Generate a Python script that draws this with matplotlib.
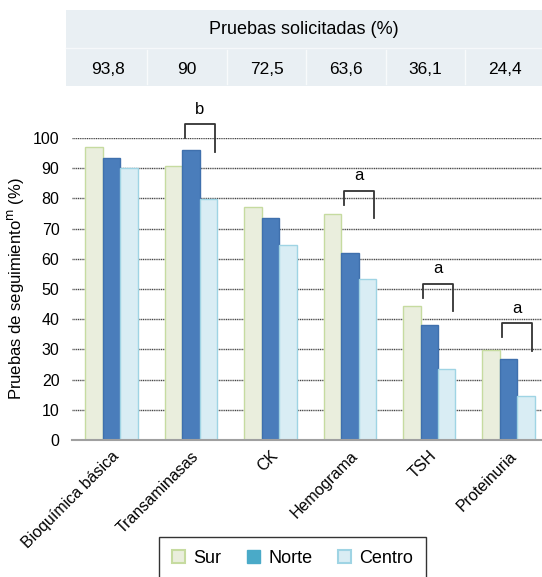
import matplotlib.pyplot as plt
import numpy as np
from matplotlib.patches import Rectangle, Patch
from matplotlib.transforms import blended_transform_factory

plt.rcParams['font.family'] = ['Liberation Sans', 'DejaVu Sans']

pruebas = ["Bioquímica básica", "Transaminasas", "CK", "Hemograma", "TSH", "Proteinuria"]
solicitadas = ["93,8", "90", "72,5", "63,6", "36,1", "24,4"]
sur = [97.1, 90.7, 77.3, 74.7, 44.4, 29.9]
norte = [93.5, 95.9, 73.6, 61.8, 38.1, 26.7]
centro = [90.0, 79.9, 64.6, 53.4, 23.4, 14.6]
yticks = [0, 10, 20, 30, 40, 50, 60, 70, 80, 90, 100]

# significance brackets: group index, top, letter
br_idx = [1, 3, 4, 5]
br_top = [104.5, 82.5, 51.7, 38.6]
br_lab = ["b", "a", "a", "a"]

fig = plt.figure(figsize=(5.42, 5.77), dpi=100)
ax = fig.add_axes([72/542, 137/577, 1 - 72/542, 302/577])

x = np.arange(len(pruebas))
w = 0.22
ax.bar(x - w, sur, w, color="#eaeedd", edgecolor="#c6dba0", linewidth=1.0, zorder=3)
ax.bar(x, norte, w, color="#4a7dbb", edgecolor="#3f70ad", linewidth=1.0, zorder=3)
ax.bar(x + w, centro, w, color="#d9edf4", edgecolor="#9fd4e4", linewidth=1.0, zorder=3)

ax.set_xlim(-0.5, 5.42)
ax.set_ylim(0, 100)
ax.set_yticks(yticks)
ax.tick_params(axis='y', length=0, labelsize=11.5, pad=9)
ax.yaxis.grid(True, linestyle=(0, (0.8, 0.5)), color="#444444", linewidth=1.0, zorder=0)
ax.set_axisbelow(True)
for s in ["top", "right", "left"]:
    ax.spines[s].set_visible(False)
ax.spines["bottom"].set_color("#a0a0a0")
ax.spines["bottom"].set_linewidth(1.5)
ax.spines["bottom"].set_zorder(4)

ax.set_xticks(x)
ax.set_xticklabels(pruebas, rotation=45, ha="right", rotation_mode="anchor", fontsize=11.5)
ax.tick_params(axis='x', length=0, pad=6)
ax.set_ylabel("Pruebas de seguimiento$^{\\mathrm{m}}$ (%)", fontsize=12, labelpad=5)

for i, top, lab in zip(br_idx, br_top, br_lab):
    xl, xr = i - 0.08, i + 0.3
    ax.plot([xl, xl, xr, xr], [top - 4.6, top, top, top - 9], color="#333333",
            linewidth=1.3, clip_on=False, zorder=5)
    ax.text((xl + xr) / 2, top + 2.5, lab, ha="center", va="bottom", fontsize=12)

# header table
tr = blended_transform_factory(ax.transData, fig.transFigure)
fig.patches.append(Rectangle((66/542, 1 - 86/577), 1 - 66/542, 76/577,
                             transform=fig.transFigure, facecolor="#e9eff3",
                             edgecolor="none", zorder=0))
fig.lines.append(plt.Line2D([66/542, 1], [1 - 48/577, 1 - 48/577], transform=fig.transFigure,
                            color="#f6f8fa", linewidth=1.0))
fig.text(304/542, 1 - 29/577, "Pruebas solicitadas (%)", ha="center", va="center", fontsize=13)
for i, v in enumerate(solicitadas):
    fig.text(x[i] - 0.05, 1 - 69/577, v, transform=tr, ha="center", va="center", fontsize=12.5)
    if i > 0:
        fig.lines.append(plt.Line2D([x[i] - 0.55, x[i] - 0.55], [1 - 84/577, 1 - 50/577],
                                    transform=tr, color="#f8fafb", linewidth=1.0))

handles = [Patch(facecolor="#eaeedd", edgecolor="#c6dba0", linewidth=1.5),
           Patch(facecolor="#4aaac8", edgecolor="#4aaac8"),
           Patch(facecolor="#d9edf4", edgecolor="#9fd4e4", linewidth=1.5)]
leg = fig.legend(handles, ["Sur", "Norte", "Centro"], loc="upper left",
                 bbox_to_anchor=(159/542, 1 - 537/577), borderaxespad=0, ncol=3, fontsize=13,
                 frameon=True, fancybox=False, edgecolor="black",
                 handlelength=0.75, handleheight=0.75, handletextpad=0.45,
                 columnspacing=1.4, borderpad=0.7)
leg.get_frame().set_linewidth(1.0)

fig.savefig("out.png", dpi=100)
